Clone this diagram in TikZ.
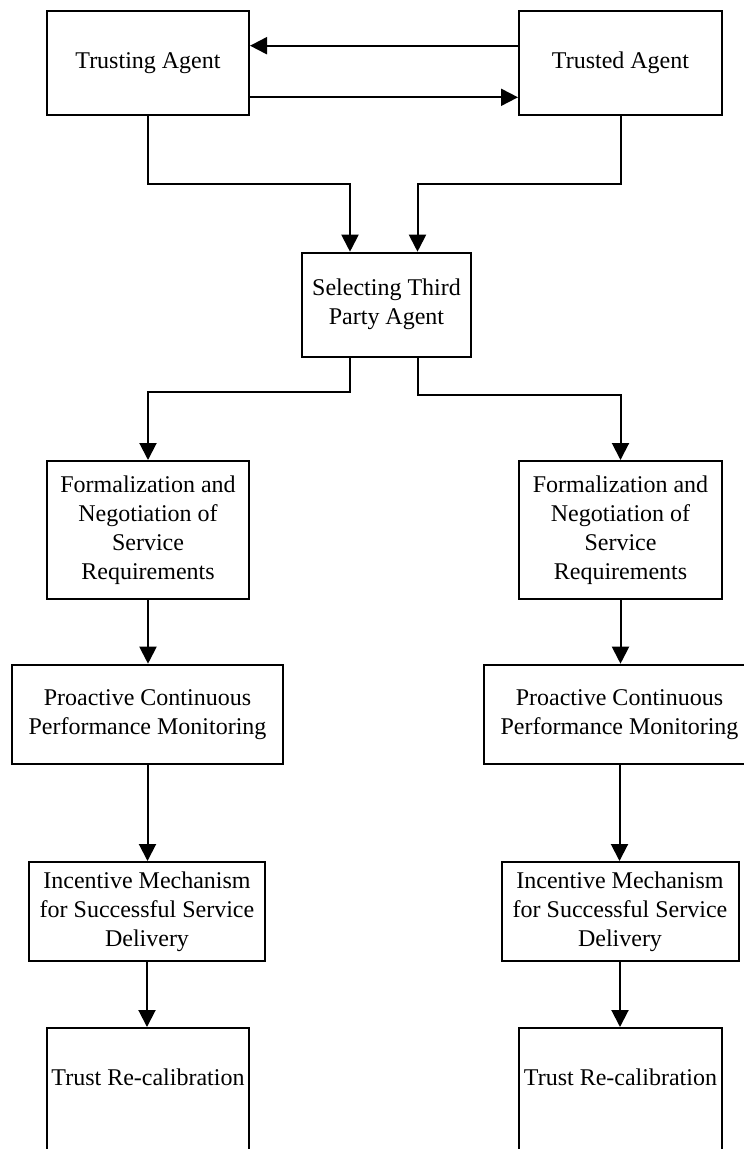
\documentclass[tikz,border=0pt]{standalone}
\usepackage{fontspec}
\setmainfont{Liberation Serif}
\usetikzlibrary{arrows.meta,calc}
\begin{document}
\begin{tikzpicture}[x=1pt,y=-1pt,
  box/.style={draw=black,line width=2pt,fill=white,inner sep=0pt,align=center,
    font=\fontsize{24}{29}\selectfont},
  txt/.style={inner sep=0pt,align=center,font=\fontsize{24}{29}\selectfont},
  arr/.style={line width=2pt,-{Triangle[length=17pt,width=17pt]}}]
\useasboundingbox (0,0) rectangle (744,1149);
\clip (0,0) rectangle (744,1149);
% nodes
\node[box,minimum width=202pt,minimum height=104pt] (ta) at (148,63) {Trusting Agent};
\node[box,minimum width=203pt,minimum height=104pt] (td) at (620.5,63) {Trusted Agent};
\node[box,minimum width=169pt,minimum height=104pt] (sel) at (386.5,304.7) {Selecting Third\\Party Agent};
\node[box,minimum width=202pt,minimum height=138pt] (fl) at (148,530) {Formalization and\\Negotiation of\\Service\\Requirements};
\node[box,minimum width=203pt,minimum height=138pt] (fr) at (620.5,530) {Formalization and\\Negotiation of\\Service\\Requirements};
\node[box,minimum width=271pt,minimum height=99pt] (pl) at (147.5,714.2) {Proactive Continuous\\Performance Monitoring};
\node[box,minimum width=271pt,minimum height=99pt] (pr) at (619.5,714.2) {Proactive Continuous\\Performance Monitoring};
\node[box,minimum width=236pt,minimum height=99pt] (il) at (147,911.5) {Incentive Mechanism\\for Successful Service\\Delivery};
\node[box,minimum width=237pt,minimum height=99pt] (ir) at (620,911.5) {Incentive Mechanism\\for Successful Service\\Delivery};
\node[box,minimum width=202pt,minimum height=200pt,anchor=north] (tl) at (148,1027) {};
\node[box,minimum width=203pt,minimum height=200pt,anchor=north] (tr) at (620.5,1027) {};
\node[txt] (tlt) at (148,1077) {Trust Re-calibration};
\node[txt] (trt) at (620.5,1077) {Trust Re-calibration};
% connectors
\draw[arr] ([yshift=17.3pt]td.west) -- ([yshift=17.3pt]ta.east);
\draw[arr] ([yshift=-34.3pt]ta.east) -- ([yshift=-34.3pt]td.west);
\draw[arr] (ta.south) -- ++(0,68) -| ([xshift=-36.5pt]sel.north);
\draw[arr] (td.south) -- ++(0,68) -| ([xshift=31pt]sel.north);
\draw[arr] ([xshift=-36.5pt]sel.south) -- ++(0,34.5) -| (fl.north);
\draw[arr] ([xshift=31pt]sel.south) -- ++(0,37.5) -| (fr.north);
\draw[arr] (fl.south) -- (fl.south |- pl.north);
\draw[arr] (fr.south) -- (fr.south |- pr.north);
\draw[arr] (pl.south) -- (pl.south |- il.north);
\draw[arr] (pr.south) -- (pr.south |- ir.north);
\draw[arr] (il.south) -- (il.south |- tl.north);
\draw[arr] (ir.south) -- (ir.south |- tr.north);
\end{tikzpicture}
\end{document}
